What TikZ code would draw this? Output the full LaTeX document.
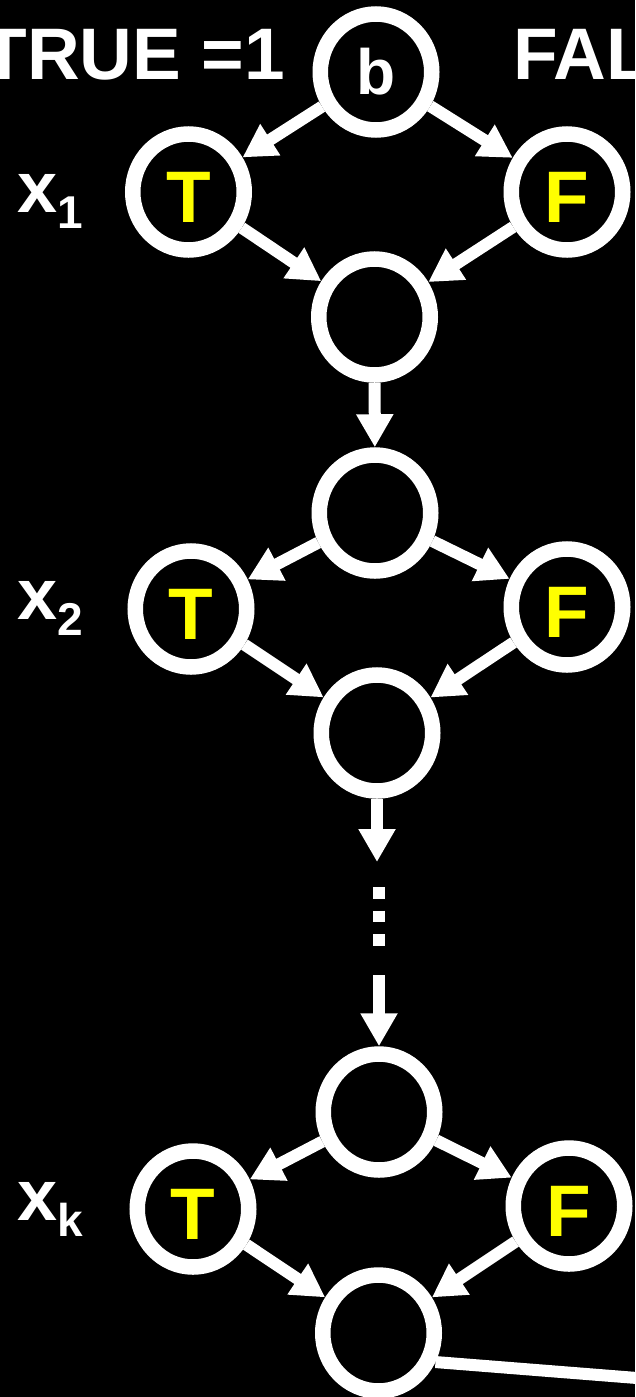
\documentclass[tikz,border=0pt]{standalone}
\usepackage{fontspec}
\setmainfont{Liberation Sans}
\usetikzlibrary{shapes.geometric,arrows.meta}
\definecolor{lit}{RGB}{255,255,0}
% variable name with a lowered index
\newcommand\varsub[2]{#1\raisebox{-16pt}{\fontsize{46pt}{46pt}\selectfont #2}}
\begin{document}
\begin{tikzpicture}[x=1pt,y=-1pt,
  ring/.style={ellipse, draw=white, line width=15.5pt, minimum width=111.5pt,
    minimum height=116pt, inner sep=0pt},
  letter/.style={ring, text=lit, font=\fontsize{73pt}{73pt}\selectfont\bfseries,
    text height=60pt, text depth=0pt},
  source/.style={ring, text=white, font=\fontsize{64pt}{64pt}\selectfont\bfseries},
  arr/.style={draw=white, line width=12pt, -{Triangle[width=35pt,length=33pt]}},
  wire/.style={draw=white, line width=12pt},
  dots/.style={draw=white, line width=12pt, dash pattern=on 11.5pt off 12pt},
  head/.style={text=white, font=\fontsize{73pt}{73pt}\selectfont\bfseries, inner sep=0pt},
  var/.style={text=white, font=\fontsize{72pt}{72pt}\selectfont\bfseries,
    inner sep=0pt, anchor=base west},
]
\path[use as bounding box, clip] (0,0) rectangle (635,1397);
\fill[black] (0,0) rectangle (635,1397);

% headings
\node[head, anchor=base east] (tru) at (285,79) {TRUE =1};
\node[head, anchor=base west] (fal) at (513,79) {FAL};

% variable labels
\node[var] (v1) at (17,212) {\varsub{x}{1}};
\node[var] (v2) at (17,619) {\varsub{x}{2}};
\node[var] (vk) at (17,1220) {\varsub{x}{k}};

% gadget nodes
\node[source] (b) at (376,72) {b};
\node[letter] (T1) at (188.5,192) {T};
\node[letter] (F1) at (567,192) {F};
\node[ring] (M1) at (374.5,317) {};

\node[ring] (S2) at (375,513) {};
\node[letter] (T2) at (191,609) {T};
\node[letter] (F2) at (567,607) {F};
\node[ring] (M2) at (377,733) {};

\node[ring] (Sk) at (379,1112) {};
\node[letter] (Tk) at (193,1209) {T};
\node[letter] (Fk) at (569,1206) {F};
\node[ring] (Mk) at (378.5,1333) {};

% free ends of the chain
\coordinate (gapTop) at (377,862);
\coordinate (d1) at (379,887);
\coordinate (d2) at (379,946);
\coordinate (gapBot) at (379,975);
\coordinate (exit) at (700,1383);

% connectors
\draw[arr] (b) -- (T1);
\draw[arr] (b) -- (F1);
\draw[arr] (T1) -- (M1);
\draw[arr] (F1) -- (M1);
\draw[arr] (M1) -- (S2);
\draw[arr] (S2) -- (T2);
\draw[arr] (S2) -- (F2);
\draw[arr] (T2) -- (M2);
\draw[arr] (F2) -- (M2);
\draw[arr] (M2) -- (gapTop);
\draw[dots] (d1) -- (d2);
\draw[arr] (gapBot) -- (Sk);
\draw[arr] (Sk) -- (Tk);
\draw[arr] (Sk) -- (Fk);
\draw[arr] (Tk) -- (Mk);
\draw[arr] (Fk) -- (Mk);
\draw[wire] (Mk.-27) -- (exit);
\end{tikzpicture}
\end{document}
